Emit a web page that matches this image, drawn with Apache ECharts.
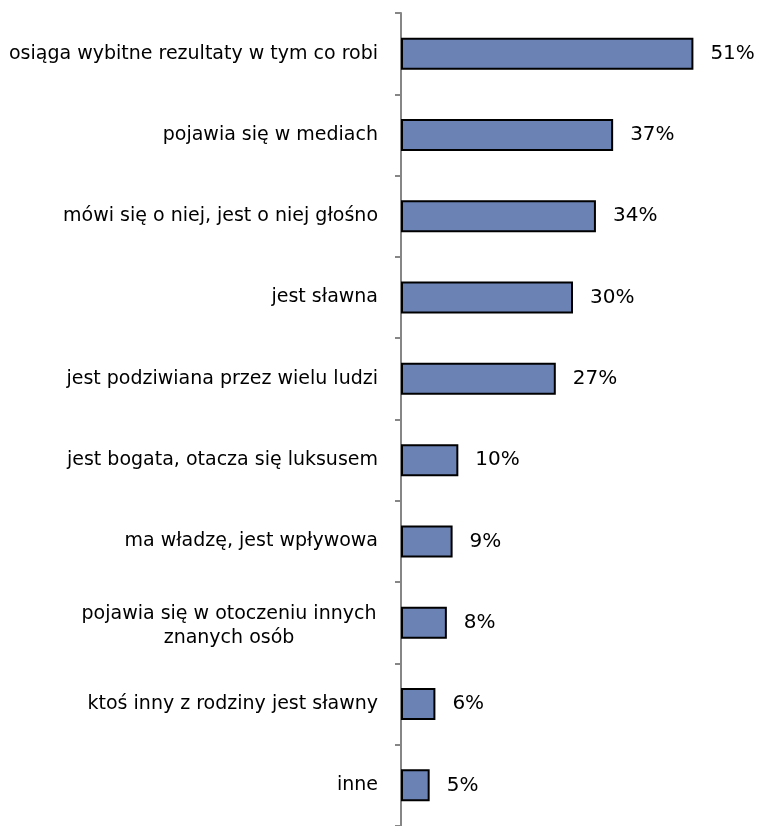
<!DOCTYPE html>
<html>
<head>
<meta charset="utf-8">
<script src="https://cdn.jsdelivr.net/npm/echarts@6/dist/echarts.min.js"></script>
<style>
  html, body { margin: 0; padding: 0; background: #fff; }
  #chart { width: 763px; height: 826px; }
</style>
</head>
<body>
<div id="chart"></div>
<script>
var categories = [
  'osiąga wybitne rezultaty w tym co robi',
  'pojawia się w mediach',
  'mówi się o niej, jest o niej głośno',
  'jest sławna',
  'jest podziwiana przez wielu ludzi',
  'jest bogata, otacza się luksusem',
  'ma władzę, jest wpływowa',
  'pojawia się w otoczeniu innych\nznanych osób',
  'ktoś inny z rodziny jest sławny',
  'inne'
];
var values = [51, 37, 34, 30, 27, 10, 9, 8, 6, 5];

var chart = echarts.init(document.getElementById('chart'));

chart.setOption({
  animation: false,
  grid: {
    left: 401,
    right: 18,
    top: 13,
    bottom: -8
  },
  xAxis: {
    type: 'value',
    min: 0,
    max: 60,
    show: false
  },
  yAxis: {
    type: 'category',
    data: categories,
    inverse: true,
    axisLine: {
      lineStyle: { color: '#868686', width: 2 }
    },
    axisTick: {
      show: true,
      length: 6,
      lineStyle: { color: '#868686', width: 2 }
    },
    axisLabel: {
      margin: 23,
      color: '#000',
      fontFamily: 'DejaVu Sans',
      fontSize: 19,
      lineHeight: 24,
      align: 'right',
      formatter: function (v) {
        // wrapped labels: lines centred under each other
        if (v.indexOf('\n') < 0) return v;
        return v.split('\n').map(function (s) { return '{c|' + s + '}'; }).join('\n');
      },
      rich: {
        c: {
          width: 298,
          align: 'center',
          color: '#000',
          fontFamily: 'DejaVu Sans',
          fontSize: 19,
          lineHeight: 24,
          padding: [7, 0, 0, 0]
        }
      }
    }
  },
  series: [{
    type: 'bar',
    data: values,
    barWidth: 32,
    itemStyle: {
      color: '#6b82b4',
      borderColor: '#000',
      borderWidth: 2
    },
    label: {
      show: true,
      position: 'right',
      distance: 17,
      color: '#000',
      fontFamily: 'DejaVu Sans',
      fontSize: 20,
      formatter: '{c}%'
    }
  }]
});
</script>
</body>
</html>
